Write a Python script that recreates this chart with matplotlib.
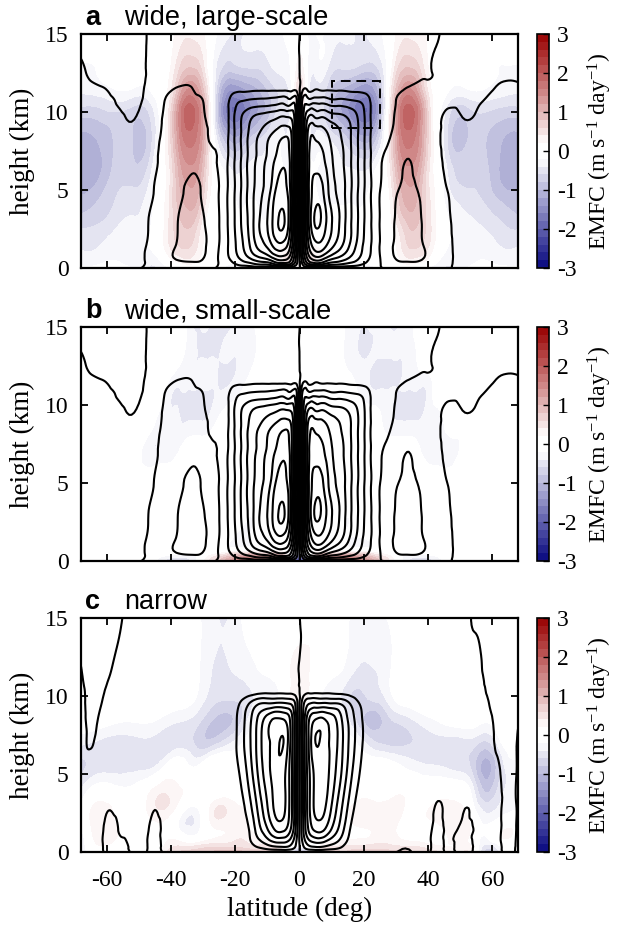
import numpy as np
import matplotlib
matplotlib.use('Agg')
import matplotlib.pyplot as plt
import matplotlib.tri as mtri
from matplotlib.colors import LinearSegmentedColormap
from matplotlib.patches import Rectangle

plt.rcParams['font.family'] = 'Liberation Serif'
plt.rcParams['axes.unicode_minus'] = False
plt.rcParams['mathtext.fontset'] = 'custom'
plt.rcParams['mathtext.rm'] = 'Liberation Serif'
plt.rcParams['mathtext.it'] = 'Liberation Serif:italic'

# ---------------- data ----------------
panel_letters = ['a', 'b', 'c']
panel_titles = ['wide, large-scale', 'wide, small-scale', 'narrow']
lat_ticks = [-60, -40, -20, 0, 20, 40, 60]
z_ticks = [0, 5, 10, 15]
cbar_ticks = [-3, -2, -1, 0, 1, 2, 3]
box_lat = (10, 25)
box_z = (9, 12)

# streamfunction, panels a and b: southern half (one row per latitude,
# values bottom -> top); the tropics are mirrored antisymmetrically and the
# northern extratropics are given on their own
lat_psi_ab = [-68, -62, -56, -50, -46, -42, -38, -34, -30, -27,
              -24, -21, -18, -15, -12, -9, -6.5, -4.5, -2.5, -1]
z_psi_ab = [0, 0.4, 1.5, 3, 5, 7, 8.5, 9.7, 10.7, 11.5, 12.5, 15]
psi_ab = [
    [-0.05, -0.3, -0.45, -0.45, -0.45, -0.4, -0.3, -0.25, -0.18, -0.12, -0.06, 0.12],
    [-0.05, -0.3, -0.45, -0.45, -0.45, -0.4, -0.3, -0.2, -0.12, -0.03, 0.12, 0.18],
    [-0.05, -0.3, -0.45, -0.45, -0.45, -0.36, -0.2, -0.09, 0.09, 0.18, 0.2, 0.2],
    [-0.05, -0.3, -0.36, -0.36, -0.36, -0.3, -0.2, -0.06, 0.12, 0.18, 0.18, 0.18],
    [0.03, 0.3, 0.25, 0.15, -0.09, -0.24, -0.3, -0.3, -0.3, -0.24, -0.15, -0.12],
    [0.05, 0.6, 0.6, 0.55, 0.45, 0.3, 0.18, 0.08, 0.0, -0.15, -0.25, -0.2],
    [0.05, 0.9, 1.05, 0.98, 0.8, 0.55, 0.38, 0.22, 0.1, 0.02, -0.2, -0.2],
    [0.05, 1.0, 1.25, 1.3, 1.15, 0.8, 0.5, 0.3, 0.15, 0.03, -0.2, -0.2],
    [0.05, 0.9, 1.1, 1.05, 0.9, 0.6, 0.35, 0.12, 0.0, -0.2, -0.25, -0.2],
    [0.05, 0.4, 0.6, 0.6, 0.45, 0.15, -0.2, -0.3, -0.3, -0.3, -0.25, -0.2],
    [-0.1, -0.3, -0.35, -0.35, -0.35, -0.35, -0.35, -0.35, -0.35, -0.3, -0.25, -0.2],
    [-0.2, -1.0, -1.5, -1.6, -1.6, -1.6, -1.6, -1.6, -1.4, -0.6, -0.3, -0.25],
    [-0.3, -1.8, -2.8, -3.1, -3.1, -3.1, -3.1, -3.0, -2.0, -0.7, -0.3, -0.25],
    [-0.3, -2.4, -4.3, -4.6, -4.6, -4.5, -4.4, -3.9, -2.2, -0.75, -0.3, -0.25],
    [-0.3, -3.0, -5.6, -6.2, -5.8, -5.5, -5.2, -4.3, -2.3, -0.8, -0.3, -0.25],
    [-0.3, -3.5, -6.8, -7.6, -7.0, -6.5, -6.0, -4.6, -2.4, -0.8, -0.3, -0.25],
    [-0.3, -4.5, -7.8, -9.05, -8.4, -7.4, -6.6, -4.9, -2.6, -0.8, -0.3, -0.25],
    [-0.3, -4.5, -7.5, -8.95, -8.3, -7.7, -6.9, -5.0, -2.6, -0.8, -0.3, -0.25],
    [-0.3, -3.5, -5.5, -6.3, -6.3, -6.2, -6.0, -4.8, -2.5, -0.8, -0.3, -0.25],
    [-0.2, -1.5, -2.4, -2.6, -2.6, -2.6, -2.6, -2.6, -2.3, -0.8, -0.3, -0.25],
]
lat_psi_ab_nh = [34, 38, 42, 46, 50, 56, 62, 68]
psi_ab_nh = [
    [-0.05, -1.0, -1.25, -1.3, -1.2, -1.0, -0.6, -0.35, -0.15, -0.03, 0.2, 0.2],
    [-0.05, -0.9, -1.05, -1.0, -0.85, -0.6, -0.4, -0.25, -0.15, -0.08, 0.05, 0.2],
    [-0.05, -0.6, -0.6, -0.55, -0.45, -0.3, -0.2, -0.15, -0.12, -0.08, -0.02, 0.15],
    [-0.03, -0.3, -0.25, -0.15, 0.0, 0.2, 0.25, 0.1, -0.1, -0.2, -0.25, -0.25],
    [0.05, 0.3, 0.36, 0.36, 0.36, 0.3, 0.2, 0.03, -0.12, -0.18, -0.2, -0.2],
    [0.05, 0.3, 0.45, 0.45, 0.45, 0.36, 0.2, 0.09, -0.05, -0.18, -0.2, -0.2],
    [0.05, 0.3, 0.45, 0.45, 0.45, 0.4, 0.3, 0.2, 0.12, 0.05, -0.1, -0.18],
    [0.05, 0.3, 0.45, 0.45, 0.45, 0.4, 0.3, 0.25, 0.15, 0.06, -0.08, -0.15],
]

# streamfunction, panel c: southern half + northern extratropics
lat_psi_c = [-68, -65, -62, -59, -56, -52, -48, -45, -42, -36,
             -28, -22, -19, -16, -13, -10, -7.5, -5, -3, -1.2]
z_psi_c = [0, 0.4, 1.5, 3, 5, 7, 8.5, 9.5, 10.3, 11, 12.5, 15]
psi_c = [
    [-0.12, -0.3, -0.3, -0.3, -0.3, -0.36, -0.36, -0.3, -0.24, -0.12, 0.06, 0.18],
    [-0.12, -0.3, -0.3, -0.3, -0.24, 0.06, 0.18, 0.24, 0.24, 0.3, 0.3, 0.3],
    [-0.12, -0.18, -0.18, -0.18, -0.24, -0.24, -0.12, 0.06, 0.18, 0.24, 0.3, 0.3],
    [0.12, 0.3, 0.24, -0.06, -0.24, -0.3, -0.3, -0.24, -0.18, -0.06, 0.12, 0.3],
    [0.06, 0.18, -0.06, -0.24, -0.3, -0.3, -0.3, -0.3, -0.24, -0.24, -0.12, 0.06],
    [-0.06, -0.18, -0.24, -0.3, -0.3, -0.3, -0.3, -0.3, -0.3, -0.24, -0.18, -0.12],
    [-0.06, -0.18, -0.24, -0.3, -0.3, -0.3, -0.3, -0.3, -0.3, -0.24, -0.18, -0.12],
    [0.12, 0.3, 0.24, -0.06, -0.24, -0.3, -0.3, -0.3, -0.3, -0.24, -0.18, -0.12],
    [-0.06, -0.18, -0.24, -0.3, -0.3, -0.3, -0.3, -0.3, -0.3, -0.24, -0.18, -0.12],
    [-0.06, -0.18, -0.24, -0.3, -0.3, -0.3, -0.3, -0.3, -0.3, -0.24, -0.18, -0.12],
    [-0.12, -0.3, -0.3, -0.3, -0.3, -0.3, -0.3, -0.3, -0.3, -0.3, -0.25, -0.2],
    [-0.12, -0.3, -0.3, -0.3, -0.3, -0.3, -0.3, -0.3, -0.3, -0.3, -0.25, -0.2],
    [-0.2, -0.3, -0.35, -0.5, -0.9, -1.25, -1.2, -0.9, -0.4, -0.3, -0.25, -0.2],
    [-0.2, -0.5, -0.9, -1.5, -2.2, -2.6, -2.5, -1.9, -0.5, -0.3, -0.25, -0.2],
    [-0.2, -1.2, -2.5, -3.2, -4.0, -4.3, -4.1, -2.9, -0.6, -0.3, -0.25, -0.2],
    [-0.2, -1.8, -4.0, -5.0, -5.6, -5.8, -5.5, -3.1, -0.7, -0.3, -0.25, -0.2],
    [-0.2, -2.2, -5.2, -6.3, -6.5, -6.5, -6.1, -3.2, -0.7, -0.3, -0.25, -0.2],
    [-0.2, -2.3, -5.3, -6.3, -6.3, -7.01, -6.0, -3.2, -0.7, -0.3, -0.25, -0.2],
    [-0.2, -2.0, -4.3, -4.8, -4.8, -5.2, -5.0, -3.0, -0.7, -0.3, -0.25, -0.2],
    [-0.15, -1.0, -2.0, -2.2, -2.2, -2.3, -2.3, -1.8, -0.5, -0.3, -0.25, -0.2],
]
lat_psi_c_nh = [36, 40, 43.5, 46.5, 51.5, 56, 59, 62, 65, 68]
psi_c_nh = [
    [0.12, 0.3, 0.3, 0.3, 0.3, 0.3, 0.3, 0.3, 0.3, 0.24, 0.18, 0.12],
    [0.12, 0.3, 0.3, 0.3, 0.3, 0.3, 0.3, 0.3, 0.3, 0.24, 0.18, 0.12],
    [-0.12, -0.3, -0.24, -0.06, 0.24, 0.3, 0.3, 0.3, 0.3, 0.24, 0.18, 0.12],
    [0.06, 0.18, 0.24, 0.3, 0.3, 0.3, 0.3, 0.3, 0.3, 0.24, 0.18, 0.12],
    [-0.12, -0.3, -0.24, 0.06, 0.24, 0.3, 0.3, 0.3, 0.3, 0.24, 0.18, 0.12],
    [0.06, 0.18, 0.24, 0.3, 0.3, 0.3, 0.3, 0.3, 0.24, 0.18, 0.06, -0.18],
    [0.06, 0.18, 0.24, 0.24, 0.24, 0.18, 0.12, 0.0, -0.12, -0.18, -0.24, -0.24],
    [0.06, 0.12, 0.12, 0.12, 0.06, -0.12, -0.18, -0.24, -0.24, -0.24, -0.24, -0.24],
    [-0.06, -0.18, -0.24, -0.24, -0.24, -0.18, -0.18, -0.24, -0.24, -0.24, -0.24, -0.24],
    [0.06, 0.12, 0.12, 0.12, 0.12, 0.06, -0.06, -0.18, -0.24, -0.24, -0.24, -0.24],
]
psi_levels = list(range(-9, 10))

# EMFC (m/s/day), panels a and b: southern half incl. equator, mirrored
lat_emfc_ab = [-68, -64, -58, -52, -47, -43.5, -40, -37, -34, -31,
               -28, -25, -21, -17, -13, -9, -5, -2, 0]
z_emfc_a = [0, 0.5, 2, 4, 6, 8, 10, 11.5, 13, 15]
emfc_a = [
    [-0.15, -0.3, -0.5, -0.9, -1.1, -1.1, -0.7, -0.35, -0.2, -0.15],
    [-0.15, -0.3, -0.5, -0.8, -1.1, -1.05, -0.7, -0.3, -0.2, -0.1],
    [-0.1, -0.2, -0.35, -0.6, -0.75, -0.8, -0.6, -0.2, -0.1, -0.1],
    [-0.2, -0.3, -0.3, -0.45, -0.7, -0.8, -0.7, -0.2, 0.0, 0.0],
    [-0.4, -0.35, -0.2, -0.3, -0.5, -0.75, -0.6, -0.2, -0.1, -0.1],
    [-0.4, -0.2, 0.05, 0.0, -0.05, -0.15, -0.15, 0.0, 0.0, -0.05],
    [-0.25, 0.15, 0.5, 0.5, 0.45, 0.6, 0.6, 0.35, 0.2, 0.15],
    [-0.15, 0.3, 0.7, 0.9, 1.1, 1.4, 1.55, 1.05, 0.6, 0.3],
    [0.0, 0.35, 0.7, 1.05, 1.3, 1.65, 1.9, 1.4, 0.75, 0.35],
    [0.0, 0.15, 0.35, 0.75, 1.05, 1.35, 1.5, 1.05, 0.6, 0.3],
    [0.0, 0.0, 0.05, 0.15, 0.3, 0.35, 0.3, 0.15, 0.0, 0.0],
    [-0.15, -0.05, 0.0, 0.0, -0.05, -0.5, -1.05, -0.85, -0.5, -0.25],
    [-0.3, -0.15, -0.05, -0.15, -0.35, -1.0, -1.8, -1.35, -0.65, -0.4],
    [-0.3, -0.15, -0.05, -0.2, -0.35, -0.85, -1.6, -1.2, -0.55, -0.4],
    [-0.2, -0.05, -0.05, -0.2, -0.35, -0.55, -1.2, -1.0, -0.55, -0.35],
    [-0.05, 0.05, -0.05, -0.2, -0.3, -0.35, -0.8, -0.7, -0.4, -0.3],
    [0.1, 0.4, 0.0, -0.15, -0.2, -0.3, -0.5, -0.5, -0.3, -0.2],
    [0.2, 0.5, 0.15, 0.0, 0.0, 0.0, 0.0, 0.0, -0.05, -0.15],
    [0.2, 0.35, 0.15, 0.15, 0.3, 0.6, 0.75, 0.6, 0.3, 0.0],
]
z_emfc_b = [0, 0.3, 0.6, 1, 3, 5, 7, 9, 11, 13, 15]
emfc_b = [
    [0, 0, 0, 0, 0, 0, 0, 0, 0, 0, 0],
    [0, 0, 0, 0, 0, 0, 0, 0, 0, 0, 0],
    [0, 0, 0, 0, 0, 0, 0, 0, 0, 0, 0],
    [0, 0, 0, 0, 0, 0, 0, 0, 0, 0, 0],
    [0, 0, 0, 0, 0, 0, -0.35, 0, 0, 0, 0],
    [-0.3, -0.15, 0, 0, 0, 0, -0.35, -0.3, 0, 0, 0],
    [-0.5, -0.3, 0, 0, 0, 0, -0.3, -0.35, -0.35, 0, 0],
    [-0.5, -0.35, -0.05, 0, 0, 0, -0.15, -0.4, -0.4, -0.15, 0],
    [-0.4, -0.3, -0.05, 0, 0, 0, 0, -0.4, -0.4, -0.35, -0.35],
    [0, -0.1, -0.05, 0, 0, 0, 0, -0.4, -0.4, -0.4, -0.4],
    [0.4, 0.25, 0, 0, 0, 0, 0, -0.35, -0.4, -0.4, -0.4],
    [0.8, 0.5, 0.05, -0.1, 0, 0, 0, -0.15, -0.4, -0.4, -0.4],
    [1.3, 0.9, 0.2, -0.25, 0, 0, 0, 0, -0.35, -0.4, -0.4],
    [1.6, 1.2, 0.3, -0.25, -0.15, 0, 0, 0, -0.15, -0.35, -0.35],
    [1.7, 1.3, 0.3, -0.15, -0.15, 0, 0, 0, 0, -0.15, -0.15],
    [1.7, 1.3, 0.3, -0.15, 0, 0, 0, 0, 0, 0, 0],
    [1.3, 0.9, 0.2, 0, 0, 0, 0, 0, 0, 0, 0],
    [-1.4, -0.9, -0.15, 0, 0, 0, 0, 0, 0, 0, 0],
    [-2.4, -1.5, -0.3, 0, 0, 0, 0, 0, 0, 0, 0],
]

# EMFC panel c, full latitude range
lat_emfc_c = [-68, -62, -56, -50, -44, -38, -32, -27, -22, -17, -12, -6, 0,
              6, 12, 17, 22, 27, 32, 38, 44, 50, 54, 58, 62, 68]
z_emfc_c = [0, 0.3, 1, 2.5, 4, 5.5, 7, 8.5, 10, 12, 15]
emfc_c = [
    [-0.4, -0.4, -0.35, -0.15, -0.4, -0.65, -0.35, -0.05, 0, 0, 0],
    [0, 0.15, 0.35, 0.35, -0.05, -0.5, -0.45, -0.05, 0, 0, 0],
    [0, 0, 0.15, 0.05, -0.15, -0.5, -0.5, -0.15, 0, 0, 0],
    [0, 0, 0, 0, -0.05, -0.45, -0.45, -0.15, 0, 0, 0],
    [0.2, 0.1, 0.05, 0.35, 0.3, -0.35, -0.5, -0.2, 0, 0, 0],
    [0.6, 0.45, 0.05, 0, 0.25, 0.0, -0.5, -0.35, -0.05, 0, 0],
    [0.7, 0.5, -0.15, -0.3, 0.15, -0.2, -0.65, -0.5, -0.2, -0.15, -0.15],
    [0.85, 0.6, 0.15, 0.35, 0.05, 0.15, -0.7, -0.8, -0.5, -0.4, -0.35],
    [0.9, 0.6, 0.25, 0.35, 0.0, 0.0, -0.45, -0.85, -0.55, -0.4, -0.4],
    [0.85, 0.55, 0.35, 0.2, 0.0, 0, -0.15, -0.5, -0.5, -0.3, -0.15],
    [0.75, 0.5, 0.15, 0, 0, 0, 0, -0.15, -0.35, -0.15, 0],
    [0.6, 0.35, 0, 0, 0, 0, 0, 0, -0.15, 0, 0],
    [-1.2, -0.4, 0, 0, 0, 0, 0, 0.15, 0.35, 0.3, 0],
    [0.5, 0.3, 0, 0, 0, 0, 0, 0, -0.15, 0, 0],
    [0.65, 0.45, 0.05, 0, 0, 0, 0, -0.15, -0.35, -0.15, 0],
    [0.7, 0.5, 0.15, 0.3, 0, 0, -0.15, -0.55, -0.65, -0.35, -0.3],
    [0.7, 0.5, 0.2, 0.35, 0.05, 0, -0.5, -0.9, -0.55, -0.4, -0.35],
    [0.7, 0.5, 0.3, 0.35, 0, -0.05, -0.65, -0.7, -0.35, -0.3, -0.2],
    [0.65, 0.45, 0.15, 0.2, 0.15, -0.2, -0.65, -0.5, -0.05, 0, 0],
    [0.55, 0.4, 0.05, 0.15, 0, -0.35, -0.55, -0.3, 0, -0.15, 0],
    [0.4, 0.25, 0.05, 0.3, 0.05, -0.4, -0.5, -0.15, 0, 0, 0],
    [0.4, 0.25, 0.35, 0.3, 0, -0.5, -0.5, -0.05, 0, 0, 0],
    [0.2, 0.15, 0.05, -0.05, -0.35, -0.7, -0.5, -0.05, 0, 0, 0],
    [-0.7, -0.55, -0.2, -0.4, -0.85, -1.1, -0.65, -0.15, 0, 0, 0],
    [-0.4, -0.3, 0.15, -0.3, -0.55, -0.65, -0.3, 0, 0, 0, 0],
    [0, 0, 0, -0.15, -0.35, -0.3, -0.05, 0, 0, 0, 0],
]


# ---------------- helpers ----------------
def mirror(lat, vals, sign):
    lat = np.asarray(lat, float)
    vals = np.asarray(vals, float)
    if lat[-1] == 0:
        return (np.concatenate([lat, -lat[-2::-1]]),
                np.concatenate([vals, sign * vals[-2::-1]]))
    return (np.concatenate([lat, -lat[::-1]]),
            np.concatenate([vals, sign * vals[::-1]]))


def join_psi(lat_sh, vals_sh, lat_nh, vals_nh):
    # tropics mirrored (antisymmetric), NH extratropics from their own table
    lat_sh = np.asarray(lat_sh, float)
    vals_sh = np.asarray(vals_sh, float)
    keep = lat_sh > -min(lat_nh)
    return (np.concatenate([lat_sh, -lat_sh[keep][::-1], lat_nh]),
            np.concatenate([vals_sh, -vals_sh[keep][::-1], np.asarray(vals_nh)]))


ASP = 4.875  # deg per km on the page, keeps the interpolation isotropic


def smooth_field(lat, z, vals):
    lat = np.asarray(lat, float)
    z = np.asarray(z, float)
    nl, nz = len(lat), len(z)
    la, zz = np.meshgrid(lat, z, indexing='ij')
    tris = []
    for i in range(nl - 1):
        for j in range(nz - 1):
            a, b = i * nz + j, (i + 1) * nz + j
            tris.append([a, b, b + 1])
            tris.append([a, b + 1, a + 1])
    tri = mtri.Triangulation(la.ravel(), zz.ravel() * ASP, np.array(tris))
    tri_r, v_r = mtri.UniformTriRefiner(tri).refine_field(
        np.asarray(vals, float).ravel(), subdiv=3)
    return mtri.Triangulation(tri_r.x, tri_r.y / ASP, tri_r.triangles), v_r


cmap = LinearSegmentedColormap.from_list('emfc', [
    (0.0, (0.03, 0.03, 0.50)),
    (0.5 - 0.2 / 6, (1, 1, 1)),
    (0.5 + 0.2 / 6, (1, 1, 1)),
    (1.0, (0.60, 0.0, 0.0))])
emfc_levels = np.linspace(-3, 3, 31)

# ---------------- assemble fields ----------------
lat_ab, psi_ab_full = join_psi(lat_psi_ab, psi_ab, lat_psi_ab_nh, psi_ab_nh)
lat_cc, psi_c_full = join_psi(lat_psi_c, psi_c, lat_psi_c_nh, psi_c_nh)
lat_ea, emfc_a_full = mirror(lat_emfc_ab, emfc_a, 1)
_, emfc_b_full = mirror(lat_emfc_ab, emfc_b, 1)

panels = [
    (lat_ea, z_emfc_a, emfc_a_full, lat_ab, z_psi_ab, psi_ab_full),
    (lat_ea, z_emfc_b, emfc_b_full, lat_ab, z_psi_ab, psi_ab_full),
    (lat_emfc_c, z_emfc_c, np.asarray(emfc_c), lat_cc, z_psi_c, psi_c_full),
]

# ---------------- figure ----------------
fig = plt.figure(figsize=(6.2, 9.27), dpi=100)
W, H = 620.0, 927.0
tops = [34, 327, 618]
ax_h = 234

for k, (le, ze, ve, lp, zp, vp) in enumerate(panels):
    top = tops[k]
    ax = fig.add_axes([81 / W, 1 - (top + ax_h) / H, 437 / W, ax_h / H])
    cax = fig.add_axes([537 / W, 1 - (top + ax_h) / H, 12 / W, ax_h / H])

    tri_e, fe = smooth_field(le, ze, ve)
    cf = ax.tricontourf(tri_e, fe, levels=emfc_levels, cmap=cmap)
    tri_p, fp = smooth_field(lp, zp, vp)
    ax.tricontour(tri_p, fp, levels=psi_levels, colors='k',
                  linewidths=1.5, linestyles='solid')

    if k == 0:
        ax.add_patch(Rectangle((box_lat[0], box_z[0]), box_lat[1] - box_lat[0],
                               box_z[1] - box_z[0], fill=False, ec='k',
                               lw=1.4, ls=(0, (5, 3))))

    ax.set_xlim(-68, 68)
    ax.set_ylim(0, 15)
    ax.set_xticks(lat_ticks)
    ax.set_yticks(z_ticks)
    ax.tick_params(direction='in', top=True, right=True, length=5, width=1.3,
                   labelsize=17)
    ax.tick_params(axis='y', pad=9)
    ax.tick_params(axis='x', pad=13)
    for s in ax.spines.values():
        s.set_linewidth(1.6)
    if k < 2:
        ax.set_xticklabels([])
    else:
        ax.set_xlabel('latitude (deg)', fontsize=19.5)
    ax.set_ylabel('height (km)', fontsize=19.5)
    ax.yaxis.set_label_coords(-0.105, 0.5)

    ax.text(0.009, 1.038, panel_letters[k], transform=ax.transAxes,
            fontsize=19.5, fontweight='bold', family='Liberation Sans',
            va='baseline')
    ax.text(0.098, 1.038, panel_titles[k], transform=ax.transAxes,
            fontsize=19.5, family='Liberation Sans', va='baseline')

    cb = fig.colorbar(cf, cax=cax, ticks=cbar_ticks)
    cb.outline.set_linewidth(1.2)
    cax.tick_params(direction='in', length=4, width=1, labelsize=17, pad=6)
    cb.set_label('EMFC (m s$^{-1}$ day$^{-1}$)', fontsize=17, labelpad=6)

fig.savefig('out.png', dpi=100)
